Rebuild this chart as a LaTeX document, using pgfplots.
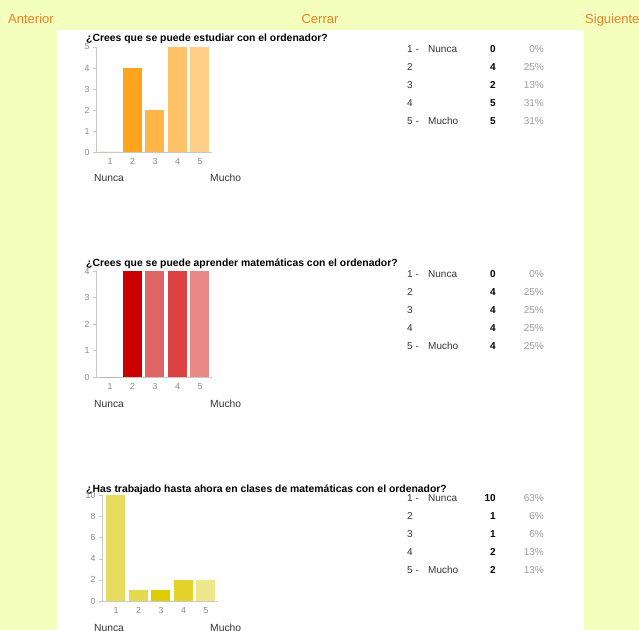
\documentclass[border=0pt]{standalone}
\usepackage{fontspec}
\setmainfont{Liberation Sans}
\usepackage{pgfplots}
\pgfplotsset{compat=1.18}

\definecolor{bg}{HTML}{F4FFBE}
\definecolor{nav}{HTML}{EE7F22}
\definecolor{axisgray}{HTML}{C8C8C8}
\definecolor{tickgray}{HTML}{8A8A8A}
\definecolor{pctgray}{HTML}{9A9A9A}
\definecolor{txt}{HTML}{333333}
% orange series
\definecolor{oa}{HTML}{FFA41C}
\definecolor{ob}{HTML}{FFB548}
\definecolor{oc}{HTML}{FFC266}
\definecolor{od}{HTML}{FFCF8A}
% red series
\definecolor{ra}{HTML}{CC0000}
\definecolor{rb}{HTML}{E06666}
\definecolor{rc}{HTML}{DC4242}
\definecolor{rd}{HTML}{EA8888}
% yellow series
\definecolor{ya}{HTML}{E8DC60}
\definecolor{yb}{HTML}{E5D94E}
\definecolor{yc}{HTML}{DECC00}
\definecolor{yd}{HTML}{E3D32A}
\definecolor{ye}{HTML}{EEE88C}

\pgfplotsset{
  gf/.style={
    scale only axis, width=115.9pt,
    xmin=0.38, xmax=5.53, ymin=0,
    axis x line*=bottom, axis y line*=left,
    axis line style={draw=axisgray},
    xtick={1,...,5}, x tick style={draw=none},
    y tick style={draw=axisgray}, tick align=outside, major tick length=3pt,
    tick label style={font=\fontsize{8.8}{9}\selectfont, text=tickgray},
    /pgf/number format/assume math mode=true,
    ybar, bar width=19pt, anchor=south west, clip=false,
  },
  b/.style={fill=#1, draw=none, bar shift=0pt},
}

\newcommand\ttl[2]{\node[anchor=base west, inner sep=0pt, font=\fontsize{10.4}{12}\selectfont\bfseries] at (86,630-#1) {#2};}
\newcommand\scaleends[1]{%
  \node[anchor=base west, inner sep=0pt, font=\fontsize{10.3}{12}\selectfont, text=txt] at (94,630-#1) {Nunca};
  \node[anchor=base west, inner sep=0pt, font=\fontsize{10.3}{12}\selectfont, text=txt] at (210,630-#1) {Mucho};}
\newcommand\row[5]{%
  \node[anchor=base west, inner sep=0pt, font=\fontsize{10}{11}\selectfont, text=txt] at (407,630-#1) {#2};
  \node[anchor=base west, inner sep=0pt, font=\fontsize{10}{11}\selectfont, text=txt] at (428,630-#1) {#3};
  \node[anchor=base east, inner sep=0pt, font=\fontsize{10}{11}\selectfont\bfseries] at (496,630-#1) {#4};
  \node[anchor=base east, inner sep=0pt, font=\fontsize{10}{11}\selectfont, text=pctgray] at (544,630-#1) {#5};}

\begin{document}
\begin{tikzpicture}[x=1pt, y=1pt]
\useasboundingbox (0,0) rectangle (639,630);
\fill[bg] (0,0) rectangle (639,630);
\fill[white] (57,0) rectangle (584,600);

% navigation
\node[anchor=base west, inner sep=0pt, font=\fontsize{13}{15}\selectfont, text=nav] at (8,630-24) {Anterior};
\node[anchor=base, inner sep=0pt, font=\fontsize{13}{15}\selectfont, text=nav] at (320,630-24) {Cerrar};
\node[anchor=base west, inner sep=0pt, font=\fontsize{13}{15}\selectfont, text=nav] at (585,630-24) {Siguiente};

% chart 1
\ttl{42}{¿Crees que se puede estudiar con el ordenador?}
\begin{axis}[gf, at={(96pt,478pt)}, height=105pt, ymax=5, ytick={0,...,5}]
  \addplot[b=oa] coordinates {(1,0)};
  \addplot[b=oa] coordinates {(2,4)};
  \addplot[b=ob] coordinates {(3,2)};
  \addplot[b=oc] coordinates {(4,5)};
  \addplot[b=od] coordinates {(5,5)};
\end{axis}
\scaleends{182}
\row{52.5}{1 -}{Nunca}{0}{0\%}
\row{70.5}{2}{}{4}{25\%}
\row{88.5}{3}{}{2}{13\%}
\row{106.5}{4}{}{5}{31\%}
\row{124.5}{5 -}{Mucho}{5}{31\%}

% chart 2
\ttl{267}{¿Crees que se puede aprender matemáticas con el ordenador?}
\begin{axis}[gf, at={(96pt,253pt)}, height=106pt, ymax=4, ytick={0,...,4}]
  \addplot[b=ra] coordinates {(1,0)};
  \addplot[b=ra] coordinates {(2,4)};
  \addplot[b=rb] coordinates {(3,4)};
  \addplot[b=rc] coordinates {(4,4)};
  \addplot[b=rd] coordinates {(5,4)};
\end{axis}
\scaleends{407}
\row{277.5}{1 -}{Nunca}{0}{0\%}
\row{295.5}{2}{}{4}{25\%}
\row{313.5}{3}{}{4}{25\%}
\row{331.5}{4}{}{4}{25\%}
\row{349.5}{5 -}{Mucho}{4}{25\%}

% chart 3
\ttl{492}{¿Has trabajado hasta ahora en clases de matemáticas con el ordenador?}
\begin{axis}[gf, at={(102pt,29pt)}, height=106pt, ymax=10, ytick={0,2,...,10}]
  \addplot[b=ya] coordinates {(1,10)};
  \addplot[b=yb] coordinates {(2,1)};
  \addplot[b=yc] coordinates {(3,1)};
  \addplot[b=yd] coordinates {(4,2)};
  \addplot[b=ye] coordinates {(5,2)};
\end{axis}
\scaleends{631}
\row{501.5}{1 -}{Nunca}{10}{63\%}
\row{519.5}{2}{}{1}{6\%}
\row{537.5}{3}{}{1}{6\%}
\row{555.5}{4}{}{2}{13\%}
\row{573.5}{5 -}{Mucho}{2}{13\%}
\end{tikzpicture}
\end{document}
